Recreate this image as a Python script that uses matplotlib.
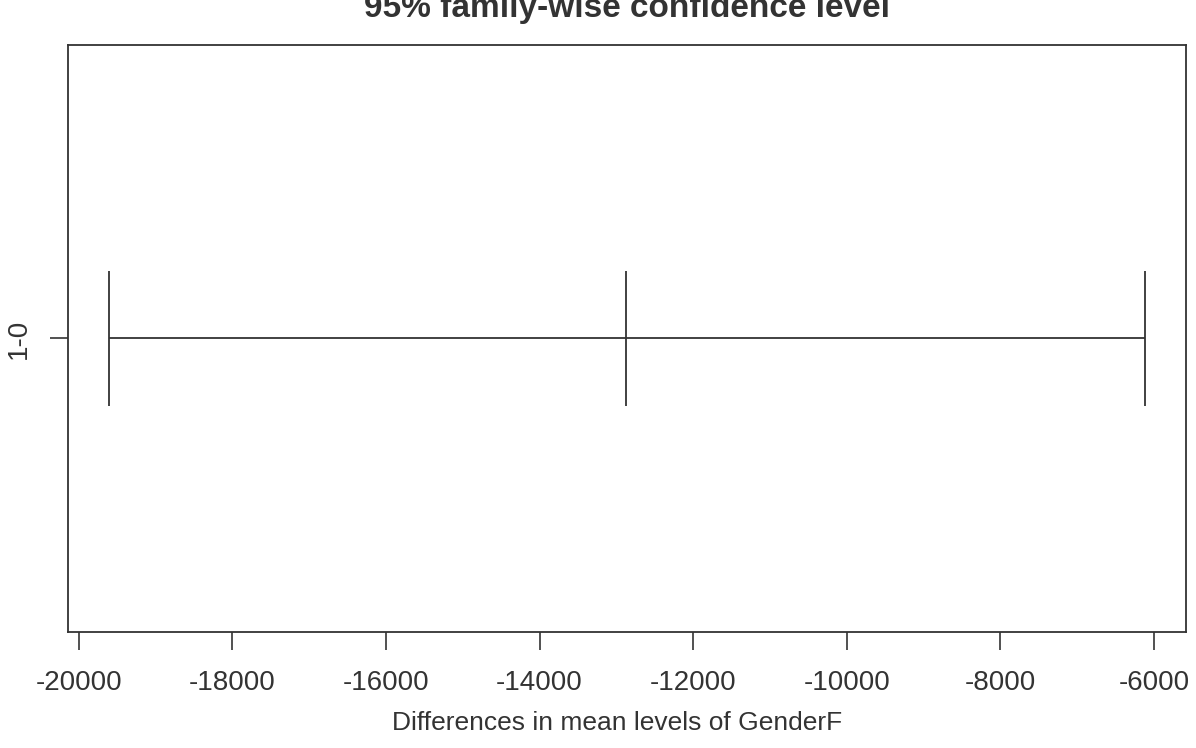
import matplotlib
matplotlib.use('Agg')
import matplotlib.pyplot as plt

# TukeyHSD result for GenderF (difference 1-0)
comparisons = ['1-0']
diff = [-12868]
lwr = [-19600]
upr = [-6122]

plt.rcParams['font.family'] = ['Liberation Sans', 'DejaVu Sans']
plt.rcParams['axes.unicode_minus'] = False

fig = plt.figure(figsize=(11.96, 7.48), dpi=100)
ax = fig.add_axes([68 / 1196, 116 / 748, 1118 / 1196, 587 / 748])

ypos = list(range(1, len(comparisons) + 1))
ax.hlines(ypos, lwr, upr, color='#333333', lw=1.3)
for y, lo, d, hi in zip(ypos, lwr, diff, upr):
    ax.vlines([lo, d, hi], y - 0.115, y + 0.115, color='#333333', lw=1.3)

# R style: 4% padding on x, 0.5 on y
span = max(upr) - min(lwr)
ax.set_xlim(min(lwr) - 0.04 * span, max(upr) + 0.04 * span)
ax.set_ylim(0.5, len(comparisons) + 0.5)

ax.set_xticks(range(-20000, -5999, 2000))
ax.set_yticks(ypos)
ax.set_yticklabels(comparisons, rotation=90, va='center')
ax.tick_params(axis='both', labelsize=20, colors='#333333', length=13, width=1.2)
ax.tick_params(axis='x', pad=14)
ax.tick_params(axis='y', pad=13)
for s in ax.spines.values():
    s.set_linewidth(1.3)
    s.set_color('#333333')

ax.set_xlabel('Differences in mean levels of GenderF', fontsize=19, color='#333333')
ax.xaxis.set_label_coords(0.4915, -0.135)
fig.text(0.524, 1 - 17 / 748, '95% family-wise confidence level', ha='center', va='baseline',
         fontsize=24, fontweight='bold', color='#333333')

fig.savefig('out.png', dpi=100)
